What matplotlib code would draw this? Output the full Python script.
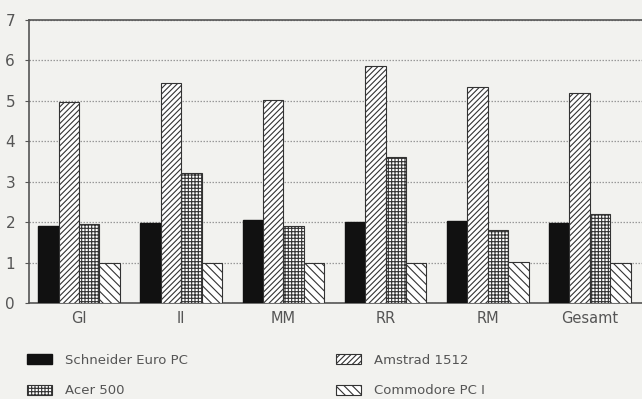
import matplotlib.pyplot as plt
import numpy as np

plt.rcParams['hatch.linewidth'] = 0.8
plt.rcParams['hatch.color'] = '#333333'

groups = ['GI', 'II', 'MM', 'RR', 'RM', 'Gesamt']
schneider = [1.9, 1.98, 2.05, 2.0, 2.03, 1.97]
amstrad = [4.98, 5.44, 5.02, 5.85, 5.34, 5.2]
acer = [1.95, 3.22, 1.9, 3.62, 1.8, 2.2]
commodore = [0.98, 0.99, 1.0, 1.0, 1.02, 0.98]

bg = '#f2f2ef'
txt = '#555555'
fig = plt.figure(figsize=(6.42, 3.99), dpi=100, facecolor=bg)
ax = fig.add_axes([29 / 642, 1 - 303 / 399, 1 - 29 / 642, (303 - 20) / 399])
ax.set_facecolor(bg)

x = np.arange(len(groups))
w = 0.2
b1 = ax.bar(x - 1.5 * w, schneider, w, color='#111111', edgecolor='#111111',
            label='Schneider Euro PC', zorder=3)
b2 = ax.bar(x - 0.5 * w, amstrad, w, color='white', edgecolor='#333333', hatch='//////',
            linewidth=0.8, label='Amstrad 1512', zorder=3)
b3 = ax.bar(x + 0.5 * w, acer, w, color='white', edgecolor='#333333', hatch='+++++',
            linewidth=0.8, label='Acer 500', zorder=3)
b4 = ax.bar(x + 1.5 * w, commodore, w, color='white', edgecolor='#333333', hatch='\\\\\\\\',
            linewidth=0.8, label='Commodore PC I', zorder=3)

ax.set_xlim(-0.49, 5.51)
ax.set_ylim(0, 7)
ax.set_yticks(range(8))
ax.set_xticks(x)
ax.set_xticklabels(groups)
ax.tick_params(axis='y', length=3, color=txt, labelcolor=txt, labelsize=11, pad=7)
ax.tick_params(axis='x', length=0, labelcolor=txt, labelsize=10.5, pad=6)
ax.grid(axis='y', linestyle=(0, (1.2, 1.2)), color='#999999', linewidth=0.9, zorder=0)

for side in ['left', 'bottom', 'top']:
    ax.spines[side].set_color(txt)
    ax.spines[side].set_linewidth(1.2)
ax.spines['right'].set_visible(False)

# two one-column legends, placed like the original
leg_kw = dict(loc='upper left', frameon=False, fontsize=9.5, labelcolor=txt,
              handlelength=1.9, handleheight=0.8, handletextpad=1.0,
              labelspacing=1.3, borderpad=0, borderaxespad=0)
fig.legend([b1, b3], ['Schneider Euro PC', 'Acer 500'],
           bbox_to_anchor=(27 / 642, 1 - 354 / 399), **leg_kw)
fig.legend([b2, b4], ['Amstrad 1512', 'Commodore PC I'],
           bbox_to_anchor=(336 / 642, 1 - 354 / 399), **leg_kw)

fig.savefig('out.png', dpi=100, facecolor=bg)
